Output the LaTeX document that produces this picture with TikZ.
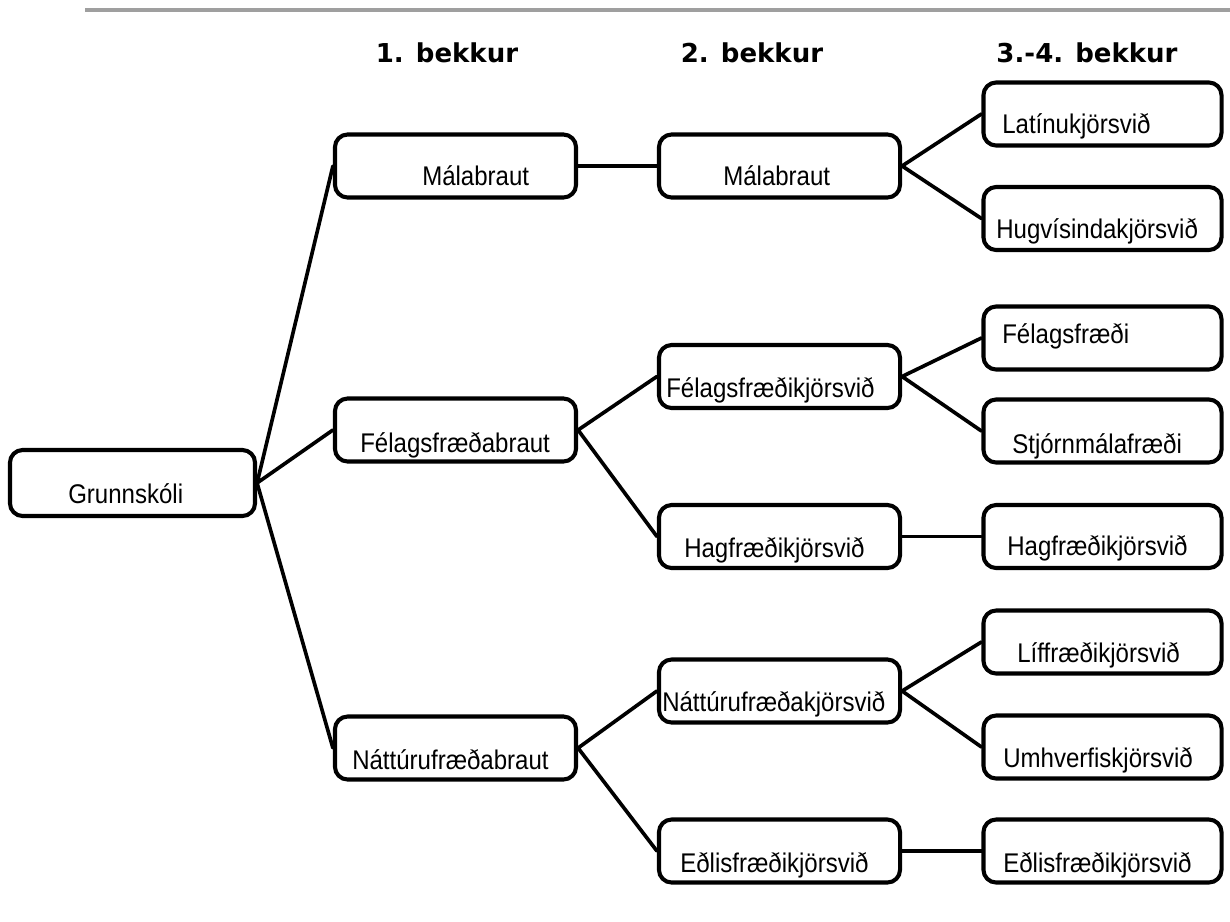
\documentclass[tikz,border=0pt]{standalone}
\usepackage{fontspec}
\setmainfont{Liberation Sans}[FakeStretch=0.89]
\newfontfamily\headfont{DejaVu Sans}
\usetikzlibrary{positioning}

\tikzset{
  kassi/.style={draw, line width=2.9pt, rounded corners=9pt, inner sep=0pt, minimum height=1.575cm},
  kassiA/.style={kassi, minimum width=6.025cm},
  kassiC/.style={kassi, minimum width=5.95cm},
  merki/.style={inner sep=0pt, anchor=base west, font=\fontsize{19.2pt}{22pt}\selectfont},
  haus/.style={inner sep=0pt, font=\headfont\bfseries\fontsize{18.5pt}{22pt}\selectfont},
  lina/.style={line width=2.6pt}
}

\begin{document}
\begin{tikzpicture}[x=0.025cm, y=-0.025cm, line cap=round, line join=round]
		\useasboundingbox (0,0) rectangle (1230,921);
		
		% top rule
		\draw[gray!75, line width=2.8pt, line cap=butt] (85,10) -- (1230,10);
		
		%========================
		% headings
		%========================
		\node[haus] (h1) at (447,53) {1. bekkur};
		\node[haus] (h2) at (752,53) {2. bekkur};
		\node[haus] (h3) at (1087,53) {3.-4. bekkur};
		
		%========================
		% boxes
		%========================
		\node[kassi, minimum width=6.125cm, minimum height=1.65cm] (g) at (132.5,483) {};
		% 1. bekkur
		\node[kassiA] (m1) at (455.5,166) {};
		\node[kassiA] (f1) at (455.5,430) {};
		\node[kassiA] (n1) at (455.5,748) {};
		% 2. bekkur
		\node[kassiA] (m2) at (779.5,166) {};
		\node[kassiA] (f2) at (779.5,376.5) {};
		\node[kassiA] (h2b) at (779.5,536.5) {};
		\node[kassiA] (n2) at (779.5,691) {};
		\node[kassiA] (e2) at (779.5,851) {};
		% 3.-4. bekkur
		\node[kassiC] (lat) at (1102.5,114) {};
		\node[kassiC] (hug) at (1102.5,218.5) {};
		\node[kassiC] (fel) at (1102.5,338) {};
		\node[kassiC] (stj) at (1102.5,431) {};
		\node[kassiC] (hag) at (1102.5,536.5) {};
		\node[kassiC] (lif) at (1102.5,642) {};
		\node[kassiC] (umh) at (1102.5,747) {};
		\node[kassiC] (eol) at (1102.5,851) {};
		
		%========================
		% texts (not centred, as in the original)
		%========================
		\node[merki] (tg) at (68,503) {Grunnskóli};
		\node[merki] (tm1) at (422,185) {Málabraut};
		\node[merki] (tf1) at (360,452) {Félagsfræðabraut};
		\node[merki] (tn1) at (352,769) {Náttúrufræðabraut};
		\node[merki] (tm2) at (723,185) {Málabraut};
		\node[merki] (tf2) at (666,397) {Félagsfræðikjörsvið};
		\node[merki] (th2) at (684,557) {Hagfræðikjörsvið};
		\node[merki] (tn2) at (662,711) {Náttúrufræðakjörsvið};
		\node[merki] (te2) at (680,872) {Eðlisfræðikjörsvið};
		\node[merki] (tlat) at (1002,133) {Latínukjörsvið};
		\node[merki] (thug) at (996,238) {Hugvísindakjörsvið};
		\node[merki] (tfel) at (1002,343) {Félagsfræði};
		\node[merki] (tstj) at (1012,453) {Stjórnmálafræði};
		\node[merki] (thag) at (1007,555) {Hagfræðikjörsvið};
		\node[merki] (tlif) at (1017,662) {Líffræðikjörsvið};
		\node[merki] (tumh) at (1003,767) {Umhverfiskjörsvið};
		\node[merki] (teol) at (1003,872) {Eðlisfræðikjörsvið};
		
		%========================
		% connectors
		%========================
		\draw[lina] (m1.west) -- (g.east) -- (f1.west);
		\draw[lina] (g.east) -- (n1.west);
		\draw[lina] (m1.east) -- (m2.west);
		\draw[lina] (f2.west) -- (f1.east) -- (h2b.west);
		\draw[lina] (n2.west) -- (n1.east) -- (e2.west);
		\draw[lina] (lat.west) -- (m2.east) -- (hug.west);
		\draw[lina] (fel.west) -- (f2.east) -- (stj.west);
		\draw[lina] (h2b.east) -- (hag.west);
		\draw[lina] (lif.west) -- (n2.east) -- (umh.west);
		\draw[lina] (e2.east) -- (eol.west);
		
\end{tikzpicture}
\end{document}
